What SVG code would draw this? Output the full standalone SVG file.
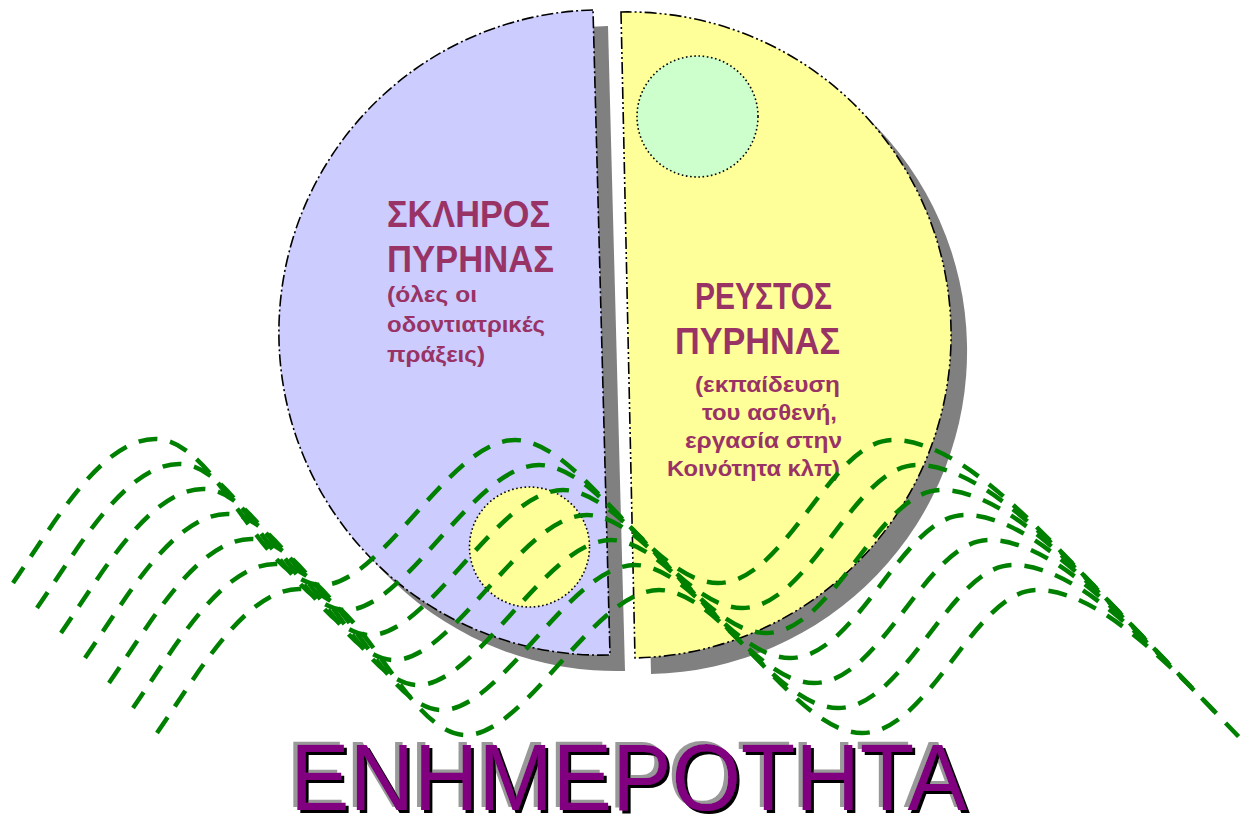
<svg xmlns="http://www.w3.org/2000/svg" width="1248" height="819" viewBox="0 0 1248 819">
<defs>
<style>
.half{stroke:#000;stroke-width:1.6;stroke-dasharray:12 3 2 3}
.halfr{stroke:#000;stroke-width:1.6;stroke-dasharray:12 3 2 3 2 3}
.sh{fill:#808080}
.dot{stroke:#000;stroke-width:1.6;stroke-dasharray:1.6 2.6}
.big{font-family:"Liberation Sans",Arial,sans-serif;font-weight:bold;font-size:36px;fill:#993366}
.small{font-family:"Liberation Sans",Arial,sans-serif;font-weight:bold;font-size:22px;fill:#993366}
.wave{fill:none;stroke:#008000;stroke-width:4.5;stroke-dasharray:19 13}
.title{font-family:"Liberation Sans",Arial,sans-serif;font-size:94px;fill:#800080}
</style>
<filter id="emboss" x="-5%" y="-20%" width="110%" height="140%">
<feOffset in="SourceAlpha" dx="-4" dy="-3" result="a1"/>
<feFlood flood-color="#999999" result="c1"/>
<feComposite in="c1" in2="a1" operator="in" result="gray"/>
<feOffset in="SourceAlpha" dx="3" dy="3" result="a2"/>
<feFlood flood-color="#000000" result="c2"/>
<feComposite in="c2" in2="a2" operator="in" result="black"/>
<feMerge>
<feMergeNode in="gray"/>
<feMergeNode in="black"/>
<feMergeNode in="SourceGraphic"/>
</feMerge>
</filter>
<path id="lh" d="M 593,10 A 300 300 0 0 0 610,655 Z"/>
<path id="rh" d="M 621,12 L 635,658 A 300 300 0 0 0 621,12 Z"/>
<path id="wave" d="M 13,583 C 50,530 100,439 155,439 C 218,439 262,585 322,585 S 450,440 515,440 S 650,583 718,583 S 830,440 893,440 C 960,440 1040,530 1096,588"/>
</defs>
<g id="shadows">
<use href="#lh" class="sh" transform="translate(15,16)"/>
<use href="#rh" class="sh" transform="translate(16,16)"/>
</g>
<g id="hard-core">
<use href="#lh" fill="#CCCCFF" class="half"/>
<text class="big" x="387" y="227" textLength="163" lengthAdjust="spacingAndGlyphs">ΣΚΛΗΡΟΣ</text>
<text class="big" x="387" y="272" textLength="167" lengthAdjust="spacingAndGlyphs">ΠΥΡΗΝΑΣ</text>
<text class="small" x="387" y="302" textLength="90" lengthAdjust="spacingAndGlyphs">(όλες οι</text>
<text class="small" x="387" y="332" textLength="158" lengthAdjust="spacingAndGlyphs">οδοντιατρικές</text>
<text class="small" x="387" y="362" textLength="98" lengthAdjust="spacingAndGlyphs">πράξεις)</text>
</g>
<g id="fluid-core">
<use href="#rh" fill="#FFFF99" class="halfr"/>
<text class="big" x="695" y="309" textLength="137" lengthAdjust="spacingAndGlyphs">ΡΕΥΣΤΟΣ</text>
<text class="big" x="675" y="354" textLength="165" lengthAdjust="spacingAndGlyphs">ΠΥΡΗΝΑΣ</text>
<text class="small" x="695" y="392" textLength="145" lengthAdjust="spacingAndGlyphs">(εκπαίδευση</text>
<text class="small" x="702" y="420" textLength="135" lengthAdjust="spacingAndGlyphs">του ασθενή,</text>
<text class="small" x="685" y="448" textLength="157" lengthAdjust="spacingAndGlyphs">εργασία στην</text>
<text class="small" x="667" y="476" textLength="173" lengthAdjust="spacingAndGlyphs">Κοινότητα κλπ)</text>
</g>
<g id="green-circle">
<circle cx="697.5" cy="116.5" r="60.5" fill="#CCFFCC" class="dot"/>
</g>
<g id="yellow-circle">
<circle cx="529.5" cy="547" r="60" fill="#FFFF99" class="dot"/>
</g>
<g id="waves" class="wave">
<use href="#wave"/>
<use href="#wave" transform="translate(24,25)"/>
<use href="#wave" transform="translate(48,50)"/>
<use href="#wave" transform="translate(72,75)"/>
<use href="#wave" transform="translate(96,100)"/>
<use href="#wave" transform="translate(120,125)"/>
<use href="#wave" transform="translate(144,150)"/>
</g>
<g id="title">
<text class="title" x="290" y="810" textLength="677" lengthAdjust="spacingAndGlyphs" filter="url(#emboss)">ΕΝΗΜΕΡΟΤΗΤΑ</text>
</g>
</svg>
